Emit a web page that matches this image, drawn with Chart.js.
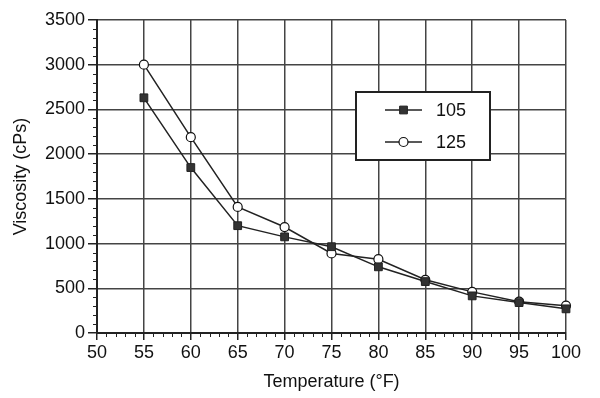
<!DOCTYPE html>
<html>
<head>
<meta charset="utf-8">
<script src="https://cdn.jsdelivr.net/npm/chart.js@4"></script>
<style>
  html, body { margin:0; padding:0; background:#fff; }
</style>
</head>
<body>
<canvas id="myChart" width="600" height="398"></canvas>
<script>
var temps = [55, 60, 65, 70, 75, 80, 85, 90, 95, 100];
var visc105 = [2630, 1850, 1200, 1075, 965, 740, 575, 415, 340, 270];
var visc125 = [3000, 2190, 1410, 1185, 890, 825, 595, 460, 350, 305];
var seriesNames = ['105', '125'];

var FONT = '"Liberation Sans", Arial, sans-serif';
var ink = '#222';

function toPoints(vals){
  var pts = [];
  for (var i = 0; i < temps.length; i++){
    pts.push({x: temps[i], y: vals[i]});
  }
  return pts;
}

// small ticks between the labelled ones (every 1 °F and every 100 cPs)
var minorTicks = {
  id: 'minorTicks',
  afterDraw: function(chart){
    var ctx = chart.ctx;
    var xs = chart.scales.x, ys = chart.scales.y;
    var a = chart.chartArea;
    ctx.save();
    ctx.strokeStyle = ink;
    ctx.lineWidth = 1;
    ctx.beginPath();
    for (var v = 50; v <= 100; v++){
      if (v % 5 === 0) continue;
      var px = Math.round(xs.getPixelForValue(v)) + 0.5;
      ctx.moveTo(px, a.bottom);
      ctx.lineTo(px, a.bottom + 4);
    }
    for (var w = 0; w <= 3500; w += 100){
      if (w % 500 === 0) continue;
      var py = Math.round(ys.getPixelForValue(w)) + 0.5;
      ctx.moveTo(a.left - 4, py);
      ctx.lineTo(a.left, py);
    }
    ctx.stroke();
    ctx.restore();
  }
};

// boxed legend sitting inside the plot
var boxLegend = {
  id: 'boxLegend',
  afterDraw: function(chart){
    var ctx = chart.ctx;
    var bx = 356, by = 92, bw = 134, bh = 68;
    ctx.save();
    ctx.fillStyle = '#fff';
    ctx.fillRect(bx, by, bw, bh);
    ctx.strokeStyle = ink;
    ctx.lineWidth = 2;
    ctx.strokeRect(bx, by, bw, bh);
    chart.data.datasets.forEach(function(ds, i){
      var y = by + 18 + i * 32;
      ctx.strokeStyle = ink;
      ctx.lineWidth = 1.5;
      ctx.beginPath();
      ctx.moveTo(385, y);
      ctx.lineTo(422, y);
      ctx.stroke();
      ctx.fillStyle = ds.pointBackgroundColor;
      ctx.strokeStyle = ds.pointBorderColor;
      ctx.lineWidth = ds.pointBorderWidth;
      ctx.beginPath();
      if (ds.pointStyle === 'rect'){
        var s = ds.pointRadius * Math.SQRT1_2;
        ctx.rect(403.5 - s, y - s, 2 * s, 2 * s);
      } else {
        ctx.arc(403.5, y, ds.pointRadius, 0, Math.PI * 2);
      }
      ctx.fill();
      ctx.stroke();
      ctx.fillStyle = '#111';
      ctx.font = '18px ' + FONT;
      ctx.textBaseline = 'middle';
      ctx.fillText(ds.label, 436, y + 1);
    });
    ctx.restore();
  }
};

var ctx = document.getElementById('myChart');
var myChart = new Chart(ctx, {
  type: 'line',
  data: {
    datasets: [{
      label: seriesNames[0],
      data: toPoints(visc105),
      borderColor: ink,
      borderWidth: 1.5,
      pointStyle: 'rect',
      pointRadius: 5.5,
      pointBackgroundColor: '#333',
      pointBorderColor: '#222',
      pointBorderWidth: 1,
      tension: 0,
      clip: false
    }, {
      label: seriesNames[1],
      data: toPoints(visc125),
      borderColor: ink,
      borderWidth: 1.5,
      pointStyle: 'circle',
      pointRadius: 4.5,
      pointBackgroundColor: '#fff',
      pointBorderColor: '#111',
      pointBorderWidth: 1.2,
      tension: 0,
      clip: false
    }]
  },
  options: {
    responsive: false,
    animation: false,
    layout: { padding: { top: 20, right: 34, left: 0, bottom: 0 } },
    plugins: {
      legend: { display: false },
      tooltip: { enabled: false }
    },
    scales: {
      x: {
        type: 'linear',
        min: 50, max: 100,
        afterFit: function(scale){ scale.height = 65; },
        ticks: { stepSize: 5, color: '#111', font: { family: FONT, size: 18 }, padding: 2, maxRotation: 0,
                 callback: function(v){ return String(v); } },
        grid: { color: '#444', lineWidth: 1.5, tickLength: 7, tickColor: ink },
        border: { color: ink, width: 2 },
        title: { display: true, text: 'Temperature (°F)', color: '#111', font: { family: FONT, size: 18 }, padding: { top: 0, bottom: 5 } }
      },
      y: {
        min: 0, max: 3500,
        afterFit: function(scale){ scale.width = 97; },
        ticks: { stepSize: 500, color: '#111', font: { family: FONT, size: 18 }, padding: 3,
                 callback: function(v){ return String(v); } },
        grid: { color: '#444', lineWidth: 1.5, tickLength: 9, tickColor: ink },
        border: { color: ink, width: 2 },
        title: { display: true, text: 'Viscosity (cPs)', color: '#111', font: { family: FONT, size: 18 }, padding: { top: 10, bottom: 2 } }
      }
    }
  },
  plugins: [minorTicks, boxLegend]
});
</script>
</body>
</html>
